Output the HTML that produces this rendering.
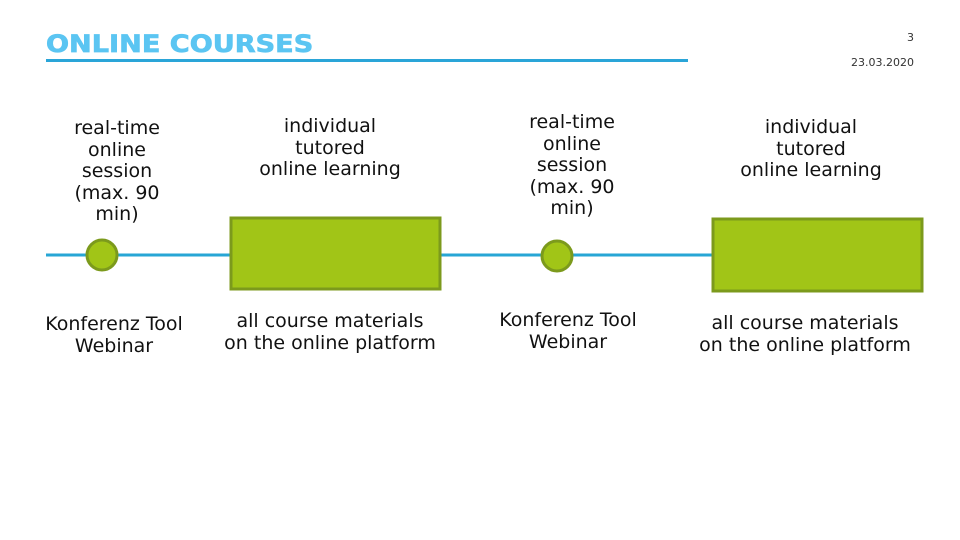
<!DOCTYPE html>
<html><head><meta charset="utf-8"><style>
html,body{margin:0;padding:0;background:#fff;}
#c{position:relative;width:960px;height:540px;overflow:hidden;background:#fff;font-family:"DejaVu Sans","Liberation Sans",sans-serif;color:#111;}
.t{position:absolute;text-align:center;font-size:19px;line-height:21.5px;white-space:nowrap;transform:translateX(-50%);}
</style></head><body><div id="c">
<div style="position:absolute;left:46px;top:30px;font-size:24px;font-weight:bold;color:#5bc5f2;white-space:nowrap;-webkit-text-stroke:0.7px #5bc5f2;transform:scaleX(1.13);transform-origin:0 0;">ONLINE COURSES</div>
<div style="position:absolute;left:46px;top:59px;width:642px;height:3px;background:#2aa5d8;"></div>
<div style="position:absolute;right:46px;top:31px;font-size:11px;color:#333;">3</div>
<div style="position:absolute;right:46px;top:56px;font-size:11px;color:#333;">23.03.2020</div>
<svg width="960" height="540" style="position:absolute;left:0;top:0">
<line x1="46" y1="255" x2="712" y2="255" stroke="#27a6d5" stroke-width="3"/>
<circle cx="102" cy="255" r="15" fill="#a1c517" stroke="#7c9a1c" stroke-width="3"/>
<circle cx="557" cy="256" r="15" fill="#a1c517" stroke="#7c9a1c" stroke-width="3"/>
<rect x="231" y="218" width="209" height="71" fill="#a1c517" stroke="#7c9a1c" stroke-width="3"/>
<rect x="713" y="219" width="209" height="72" fill="#a1c517" stroke="#7c9a1c" stroke-width="3"/>
</svg>
<div class="t" style="left:117px;top:118px;">real-time<br>online<br>session<br>(max. 90<br>min)</div>
<div class="t" style="left:330px;top:116px;">individual<br>tutored<br>online learning</div>
<div class="t" style="left:572px;top:112px;">real-time<br>online<br>session<br>(max. 90<br>min)</div>
<div class="t" style="left:811px;top:117px;">individual<br>tutored<br>online learning</div>
<div class="t" style="left:114px;top:314px;">Konferenz Tool<br>Webinar</div>
<div class="t" style="left:330px;top:311px;">all course materials<br>on the online platform</div>
<div class="t" style="left:568px;top:310px;">Konferenz Tool<br>Webinar</div>
<div class="t" style="left:805px;top:313px;">all course materials<br>on the online platform</div>
</div></body></html>
